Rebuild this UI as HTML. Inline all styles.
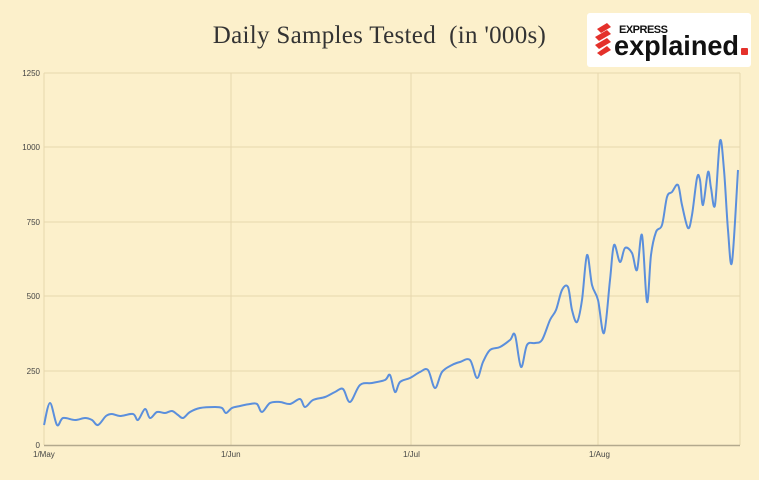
<!DOCTYPE html>
<html><head><meta charset="utf-8"><style>
html,body{margin:0;padding:0;background:#fcf0cb;}
body{width:759px;height:480px;overflow:hidden;position:relative;font-family:"Liberation Sans",sans-serif;}
.title{position:absolute;left:0;top:22px;width:759px;text-align:center;font-family:"Liberation Serif",serif;font-size:25px;color:#333;letter-spacing:0.3px;}
.logo{position:absolute;left:587px;top:13px;width:164px;height:54px;background:#fff;border-radius:3px;}
</style></head><body>
<svg width="759" height="480" style="position:absolute;left:0;top:0">
<g stroke="#e6d7ae" stroke-width="1">
<line x1="44" y1="73" x2="740" y2="73"/><line x1="44" y1="147" x2="740" y2="147"/>
<line x1="44" y1="222" x2="740" y2="222"/><line x1="44" y1="296" x2="740" y2="296"/>
<line x1="44" y1="371" x2="740" y2="371"/>
<line x1="44" y1="73" x2="44" y2="445"/><line x1="231" y1="73" x2="231" y2="445"/>
<line x1="411" y1="73" x2="411" y2="445"/><line x1="598" y1="73" x2="598" y2="445"/>
<line x1="740" y1="73" x2="740" y2="445"/>
</g>
<line x1="44" y1="445.5" x2="740" y2="445.5" stroke="#b3a98d" stroke-width="1.5"/>
<g font-size="8" fill="#444" text-anchor="end" font-family="Liberation Sans">
<text x="40" y="76">1250</text><text x="40" y="150">1000</text><text x="40" y="225">750</text>
<text x="40" y="299">500</text><text x="40" y="374">250</text><text x="40" y="448">0</text>
</g>
<g font-size="8" fill="#444" font-family="Liberation Sans">
<text x="33" y="457">1/May</text><text x="221" y="457">1/Jun</text><text x="403" y="457">1/Jul</text><text x="589" y="457">1/Aug</text>
</g>
<path id="ln" fill="none" stroke="#5b8fdc" stroke-width="2" stroke-linejoin="round"/>
</svg>
<div class="title">Daily Samples Tested&nbsp; (in '000s)</div>
<div class="logo">
<svg width="164" height="54" style="position:absolute;left:0;top:0">
<g fill="#e4312b">
<polygon points="10,16 20,10 24,14 14,20"/><polygon points="8,24 20,17 24,21 12,28"/>
<polygon points="8,32 20,25 24,29 12,36"/><polygon points="10,40 20,33 24,37 14,43"/>
</g>
<text x="32" y="20" font-size="11" font-weight="bold" fill="#111" font-family="Liberation Sans" letter-spacing="-0.5">EXPRESS</text>
<text x="27" y="42" font-size="28" font-weight="bold" fill="#111" font-family="Liberation Sans" textLength="125" lengthAdjust="spacingAndGlyphs">explained</text>
<rect x="154" y="35" width="7" height="7" rx="1" fill="#e4312b"/>
</svg>
</div>
<script>
var p=[[44,425],[50,403],[57,425],[63,418],[75,420],[85,418],[92,420],[98,425],[106,416],[112,414],[120,416],[133,414],[138,420],[145,409],[150,418],[157,412],[165,413],[172,411],[178,415],[183,418],[190,412],[200,408],[215,407],[222,408],[226,413],[232,408],[240,406],[250,404],[257,404],[262,412],[270,403],[280,402],[290,404],[300,399],[305,407],[313,400],[325,397],[335,392],[343,389],[350,402],[360,385],[372,383],[385,380],[390,375],[395,392],[400,382],[410,378],[420,372],[428,370],[435,388],[442,372],[452,365],[460,362],[470,360],[477,378],[483,362],[490,350],[500,347],[510,340],[515,335],[521,367],[527,345],[535,343],[542,340],[550,320],[556,310],[562,290],[568,287],[572,310],[577,322],[582,300],[587,255],[592,285],[598,300],[604,333],[610,280],[614,245],[620,262],[625,248],[632,253],[637,270],[642,235],[647,302],[651,255],[656,232],[662,225],[667,197],[672,192],[678,185],[682,205],[688,228],[692,215],[697,178],[700,180],[703,205],[708,172],[711,188],[715,205],[720,141],[724,170],[728,230],[732,262],[738,170]];
var d="M"+p[0][0]+","+p[0][1];
for(var i=0;i<p.length-1;i++){var a=p[i-1]||p[i],b=p[i],c=p[i+1],e=p[i+2]||c;
d+=" C"+(b[0]+(c[0]-a[0])/6)+","+(b[1]+(c[1]-a[1])/6)+" "+(c[0]-(e[0]-b[0])/6)+","+(c[1]-(e[1]-b[1])/6)+" "+c[0]+","+c[1];}
document.getElementById("ln").setAttribute("d",d);
</script>
</body></html>
